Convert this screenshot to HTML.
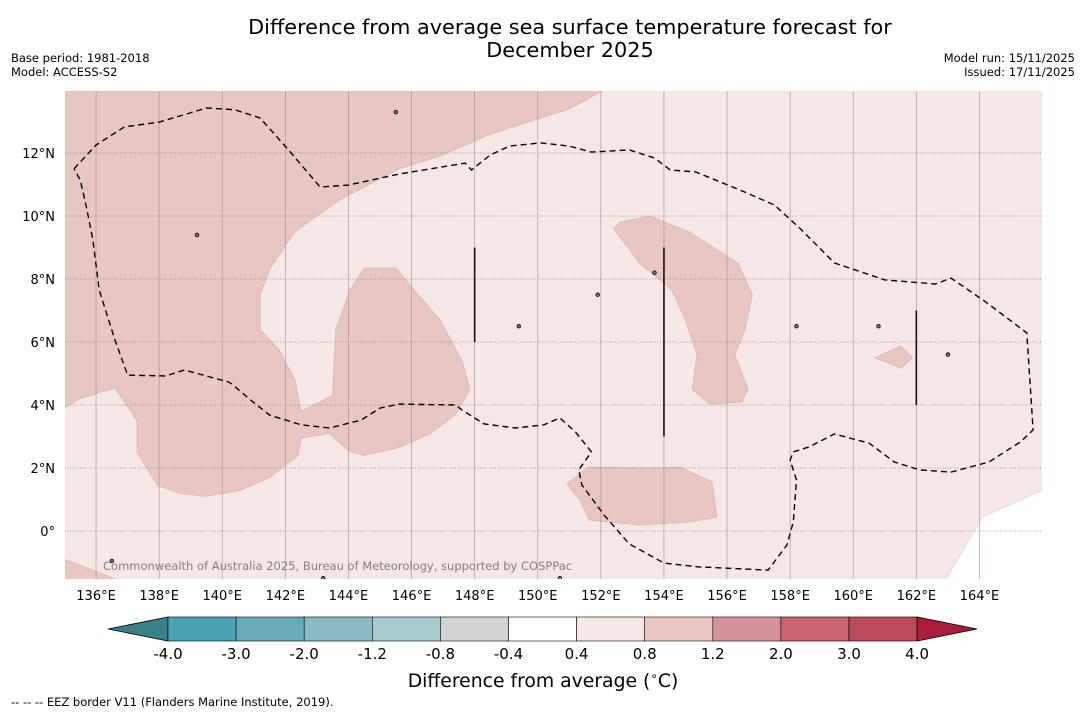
<!DOCTYPE html>
<html><head><meta charset="utf-8"><style>
body{margin:0;background:#fff;font-family:"DejaVu Sans","Liberation Sans",sans-serif;}
svg{display:block}
</style></head><body>
<svg width="1085" height="713" viewBox="0 0 1085 713">
<text x="570" y="34" font-size="20.8" text-anchor="middle">Difference from average sea surface temperature forecast for</text>
<text x="570" y="57" font-size="20.8" text-anchor="middle">December 2025</text>
<text x="11" y="62" font-size="11.5">Base period: 1981-2018</text>
<text x="11" y="76" font-size="11.5">Model: ACCESS-S2</text>
<text x="1075" y="62" font-size="11.5" text-anchor="end">Model run: 15/11/2025</text>
<text x="1075" y="76" font-size="11.5" text-anchor="end">Issued: 17/11/2025</text>
<defs><clipPath id="mc"><rect x="65" y="91" width="977" height="488"/></clipPath></defs>
<g id="map" clip-path="url(#mc)"></g>
<g id="axes"></g>
<g id="cbar"></g>
<text x="543" y="687" font-size="18.8" text-anchor="middle">Difference from average (<tspan font-size="12" dy="-7">∘</tspan><tspan dy="7">C)</tspan></text>
<text x="11" y="706" font-size="11.5">--  --  -- EEZ border V11 (Flanders Marine Institute, 2019).</text>
</svg>
<script>
const lonTicks=[136,138,140,142,144,146,148,150,152,154,156,158,160,162,164];
const latTicks=[0,2,4,6,8,10,12];
const latLabels=["0°","2°N","4°N","6°N","8°N","10°N","12°N"];
const bigRegion=[[135,14],[152.1,14],[151,13.4],[148.5,12.6],[146.9,11.9],[145.6,11.5],[143.7,10.5],[142.3,9.5],[141.5,8.3],[141.2,7.5],[141.2,6.4],[141.8,5.75],[142.3,4.8],[142.5,3.8],[143.5,4.3],[143.6,6.4],[144.05,7.65],[144.5,8.35],[145.5,8.35],[145.95,7.8],[146.9,6.7],[147.6,5.4],[147.85,4.5],[147.4,3.7],[146.6,3.1],[145.6,2.65],[144.5,2.4],[144,2.55],[143.4,3.1],[142.5,2.95],[142.4,2.4],[141.5,1.7],[140.6,1.3],[139.45,1.1],[138.65,1.2],[137.95,1.45],[137.3,2.5],[137.3,3.5],[136.6,4.55],[135.5,4.2],[135,3.9]];
const eastBlob=[[152.4,9.6],[152.6,9.8],[153.56,10],[154.8,9.5],[156.35,8.5],[156.8,7.5],[156.57,6.4],[156.25,5.6],[156.66,4.5],[156.47,4.1],[155.46,4.03],[154.9,4.5],[155.05,5.6],[154.66,6.75],[154.25,7.65],[153.24,8.5]];
const southBlob=[[150.93,1.5],[151.6,2.03],[153.56,2.0],[154.51,2.03],[155.52,1.56],[155.68,0.44],[154.83,0.29],[153.24,0.19],[151.63,0.35],[151.34,0.98]];
const smallBlob=[[160.7,5.5],[161.5,5.87],[161.88,5.5],[161.5,5.17]];
const swCorner=[[135,-0.9],[136.8,-1.6],[135,-1.6]];
const whiteCorner=[[162.9,-1.6],[164.1,0.45],[166,1.3],[166,-1.6]];
const eez=[[135.3,11.5],[136,12.25],[136.9,12.83],[138,12.98],[139.5,13.43],[140.4,13.37],[141.2,13.11],[142.1,12.1],[143.1,10.92],[144,10.98],[145.6,11.33],[147.7,11.68],[147.9,11.46],[148.5,11.94],[149.1,12.22],[150.1,12.32],[151,12.22],[151.7,12.03],[152.9,12.1],[153.7,11.84],[154.2,11.46],[155,11.4],[156.4,10.83],[157.5,10.35],[158.3,9.62],[159.4,8.51],[161,7.97],[162.6,7.84],[163.1,8.03],[164.2,7.27],[165.5,6.29],[165.7,3.21],[165.3,2.83],[164.3,2.19],[163.1,1.87],[162.1,1.94],[161.3,2.19],[160.5,2.79],[159.4,3.08],[158.6,2.67],[158.1,2.51],[158,2.25],[158.2,1.62],[158.1,0.29],[157.9,-0.44],[157.3,-1.24],[155.1,-1.14],[154,-1.02],[152.9,-0.41],[152.1,0.51],[151.4,1.46],[151.3,1.94],[151.7,2.51],[151.2,3.14],[150.7,3.59],[150.2,3.37],[149.3,3.27],[148.3,3.4],[147.6,3.84],[147.4,4.0],[145.6,4.03],[145,3.9],[144.4,3.52],[143.4,3.27],[142.5,3.37],[141.5,3.68],[140.9,4.16],[140.3,4.67],[140.2,4.73],[138.8,5.11],[138.2,4.92],[137,4.95],[136.6,6.06],[136.1,7.65],[135.9,9.24],[135.7,10.25],[135.5,11.14],[135.3,11.5]];
const vLines=[[148,9,6],[154,9,3],[162,7,4]];
const islands=[[136.5,-0.95],[139.2,9.4],[145.5,13.3],[149.4,6.5],[151.9,7.5],[158.2,6.5],[160.8,6.5],[163.0,5.6],[153.7,8.2],[150.7,-1.5],[143.2,-1.5]];
const cbBounds=[-4.0,-3.0,-2.0,-1.2,-0.8,-0.4,0.4,0.8,1.2,2.0,3.0,4.0];
const cbColors=["#4aa2b2","#69abb9","#8ab9c4","#a9cbd0","#d4d4d4","#ffffff","#f5e8e6","#e8c7c2","#d6929a","#c8656f","#bd4a5a"];
const X=l=>64.5+(l-135)*31.55, Y=t=>531-t*31.5;
const NS="http://www.w3.org/2000/svg";
function mk(p,tag,attrs){const e=document.createElementNS(NS,tag);for(const k in attrs)e.setAttribute(k,attrs[k]);p.appendChild(e);return e;}
const pts=a=>a.map(p=>X(p[0]).toFixed(1)+","+Y(p[1]).toFixed(1)).join(" ");
const map=document.getElementById('map'), ax=document.getElementById('axes');
let e=mk(map,'rect',{x:65,y:91,width:977,height:488,fill:'#f4e7e5'});

e=mk(map,'polygon',{points:pts(whiteCorner),fill:'#ffffff',stroke:'#ecd8d5','stroke-width':1});

[[bigRegion,'anomaly-west-region'],[eastBlob,'anomaly-east-region'],[southBlob,'anomaly-south-region'],[smallBlob,'anomaly-small-region'],[swCorner,'anomaly-sw-region']].forEach(([a,n])=>{
 const p=mk(map,'polygon',{points:pts(a),fill:'#e8c7c3',stroke:'#dcb4b0','stroke-width':0.8});
 });
lonTicks.forEach(l=>{const g=mk(map,'line',{x1:X(l),x2:X(l),y1:91,y2:579,stroke:'#9a8a88','stroke-width':0.8,'stroke-opacity':0.7});
 });
latTicks.forEach(t=>{const g=mk(map,'line',{x1:65,x2:1042,y1:Y(t),y2:Y(t),stroke:'#888','stroke-width':0.8,'stroke-dasharray':'1,1.5'});
 });
e=mk(map,'polyline',{points:pts(eez),fill:'none',stroke:'#000','stroke-width':1.4,'stroke-dasharray':'6,4'});

vLines.forEach(v=>{const g=mk(map,'line',{x1:X(v[0]),x2:X(v[0]),y1:Y(v[1]),y2:Y(v[2]),stroke:'#111','stroke-width':1.6});
 });
islands.forEach(i=>{const g=mk(map,'circle',{cx:X(i[0]),cy:Y(i[1]),r:1.8,fill:'#777',stroke:'#000','stroke-width':0.8});
 });
e=mk(map,'text',{x:103,y:570,'font-size':11.5,fill:'#8a7c7a'});e.textContent='Commonwealth of Australia 2025, Bureau of Meteorology, supported by COSPPac';

lonTicks.forEach(l=>{const t=mk(ax,'text',{x:X(l),y:600,'font-size':13,'text-anchor':'middle'});t.textContent=l+'°E';
 });
latTicks.forEach((t,i)=>{const s=mk(ax,'text',{x:55,y:Y(t)+5,'font-size':13,'text-anchor':'end'});s.textContent=latLabels[i];
 });
const cb=document.getElementById('cbar');const cx0=168,cw=68.1,cy=617,ch=24;
e=mk(cb,'polygon',{points:`${cx0},${cy} ${cx0},${cy+ch} 108,${cy+ch/2}`,fill:'#3b7f88',stroke:'#000','stroke-width':0.8});

cbColors.forEach((c,i)=>{const r=mk(cb,'rect',{x:cx0+i*cw,y:cy,width:cw,height:ch,fill:c,stroke:'#000','stroke-width':0.6});
 });
const xe=cx0+cbColors.length*cw;
e=mk(cb,'polygon',{points:`${xe},${cy} ${xe},${cy+ch} 977,${cy+ch/2}`,fill:'#a91c3c',stroke:'#000','stroke-width':0.8});

cbBounds.forEach((b,i)=>{const t=mk(cb,'text',{x:cx0+i*cw,y:659,'font-size':15,'text-anchor':'middle'});t.textContent=b.toFixed(1);
 });
</script>
</body></html>
